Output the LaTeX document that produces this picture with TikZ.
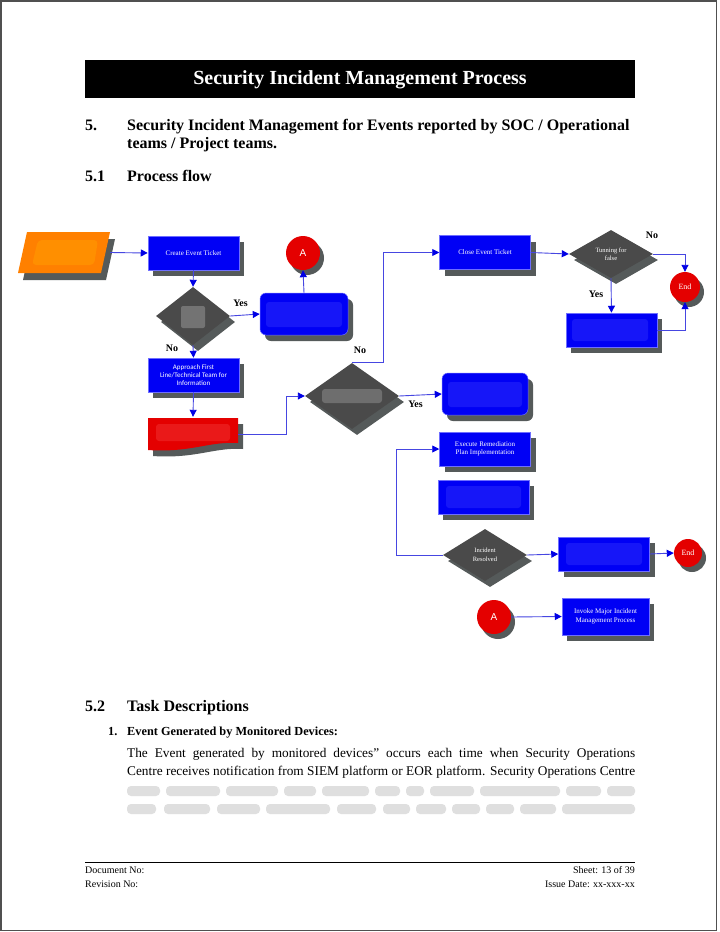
\documentclass[tikz,border=0pt]{standalone}
\usepackage{fontspec}
\setmainfont{Liberation Serif}
\newfontfamily\boxsans{Carlito}
\newfontfamily\asans{Liberation Sans}
\usetikzlibrary{shapes.geometric,shadows,arrows.meta}
\definecolor{boxblue}{RGB}{0,0,245}
\definecolor{boxedge}{RGB}{110,110,255}
\definecolor{shadowgray}{RGB}{85,90,90}
\definecolor{dgray}{RGB}{74,74,74}
\definecolor{lineblue}{RGB}{70,70,225}
\definecolor{redfill}{RGB}{228,0,0}
\definecolor{orangefill}{RGB}{255,128,0}
\definecolor{framegray}{RGB}{80,80,80}
\tikzset{
  shad/.style={general shadow={fill=shadowgray, shadow xshift=5pt, shadow yshift=-6pt}},
  bbox/.style={rectangle, fill=boxblue, draw=boxedge, line width=0.5pt, minimum width=91pt, minimum height=34pt,
    inner sep=1pt, text=white, font=\fontsize{7}{8.5}\selectfont, align=center, shad},
  rbox/.style={bbox, rounded corners=6pt},
  dia/.style={diamond, fill=dgray, inner sep=0pt, text=white, font=\fontsize{6.5}{8.5}\selectfont, align=center, shad},
  circ/.style={circle, fill=redfill, inner sep=0pt, text=white,
    general shadow={fill=shadowgray, shadow xshift=4pt, shadow yshift=-5pt}},
  conn/.style={draw=lineblue, line width=0.9pt, -{Triangle[length=7pt,width=7pt,color=blue!90!black]}},
  lbl/.style={font=\bfseries\fontsize{10}{12}\selectfont},
  hdr/.style={anchor=base west, font=\bfseries\fontsize{16}{18}\selectfont, inner sep=0pt},
  body/.style={anchor=base west, font=\fontsize{13.3}{16}\selectfont, inner sep=0pt},
  foot/.style={font=\fontsize{10}{12}\selectfont, inner sep=0pt},
  blurin/.style={fill=blue!70!white, opacity=0.3, rounded corners=3pt},
  blurtxt/.style={fill=gray!25, rounded corners=4pt},
}
\begin{document}
\begin{tikzpicture}[x=1pt,y=-1pt]
\useasboundingbox (0,0) rectangle (720,932);
\fill[white] (0,0) rectangle (720,932);
\draw[framegray, line width=1.5pt] (1,1) rectangle (716.5,930.5);

% header
\fill[black] (85,60) rectangle (635,98);
\node[text=white, font=\bfseries\fontsize{20}{24}\selectfont] (title) at (360,79.5) {Security Incident Management Process};

\node[hdr] (h5n) at (85,130) {5.};
\node[hdr] (h5a) at (127,130) {Security Incident Management for Events reported by SOC / Operational};
\node[hdr] (h5b) at (127,148.5) {teams / Project teams.};
\node[hdr] (h51n) at (85,181) {5.1};
\node[hdr] (h51) at (127,181) {Process flow};

% ---------- flowchart ----------
% orange parallelogram
\fill[shadowgray] (32,239) -- (115,239) -- (106,280) -- (23,280) -- cycle;
\fill[orangefill] (27,232) -- (110,232) -- (101,273) -- (18,273) -- cycle;
\fill[orange!60!yellow, opacity=0.3, rounded corners=4pt] (38,240) -- (98,240) -- (94,265) -- (32,265) -- cycle;
\node[minimum width=92pt, minimum height=41pt, inner sep=0pt] (par) at (64,252.5) {};

\node[bbox] (cet) at (193.5,253) {Create Event Ticket};
\node[dia, minimum width=74pt, minimum height=58pt] (d1) at (193,316) {};
\fill[gray!70, opacity=0.45, rounded corners=2pt] (181,306) rectangle (205,328);
\node[rbox, minimum width=88pt, minimum height=42pt] (rb1) at (304,314) {};
\fill[blurin] (266,302) rectangle (342,327);
\node[circ, minimum size=34pt, font=\asans\fontsize{10}{12}\selectfont] (A1) at (303,253) {A};
\node[bbox, font=\boxsans\fontsize{7}{8.3}\selectfont] (ap) at (193.5,375) {Approach First\\Line/Technical Team for\\Information};

% red document shape
\fill[shadowgray] (153,424) -- (243,424) -- (243,449) .. controls (215,447) and (195,459) .. (153,456) -- cycle;
\fill[redfill] (148,418) -- (238,418) -- (238,443) .. controls (210,441) and (190,453) .. (148,450) -- cycle;
\fill[red!60!white, opacity=0.25, rounded corners=3pt] (156,424) rectangle (230,441);
\node[minimum width=90pt, minimum height=34pt, inner sep=0pt] (red) at (193,434) {};

\node[dia, minimum width=94pt, minimum height=66pt] (d2) at (352,396) {};
\fill[gray!70, opacity=0.4, rounded corners=3pt] (322,389) rectangle (382,403);
\node[rbox, minimum width=86pt, minimum height=42pt] (rb2) at (485,394) {};
\fill[blurin] (448,382) rectangle (522,407);

\node[bbox] (close) at (485,252.5) {Close Event Ticket};
\node[dia, minimum width=84pt, minimum height=48pt] (d3) at (611,254) {Tunning for\\false};
\node[circ, minimum size=30pt, font=\fontsize{8}{10}\selectfont] (end1) at (685,287) {End};
\node[bbox] (b3) at (611.5,330) {};
\fill[blurin] (572,319) rectangle (648,341);

\node[bbox] (exe) at (485,449) {Execute Remediation\\Plan Implementation};
\node[bbox] (b5) at (483.5,497) {};
\fill[blurin] (446,486) rectangle (521,508);
\node[dia, minimum width=84pt, minimum height=52pt] (d4) at (485,555) {Incident\\Resolved};
\node[bbox] (b6) at (604,554) {};
\fill[blurin] (566,543) rectangle (642,565);
\node[circ, minimum size=28pt, font=\fontsize{8}{10}\selectfont] (end2) at (688,553) {End};
\node[circ, minimum size=34pt, font=\asans\fontsize{10}{12}\selectfont] (A2) at (494,617) {A};
\node[bbox, minimum width=87pt, minimum height=37pt] (inv) at (605.5,616.5) {Invoke Major Incident\\Management Process};

% connectors
\draw[conn] (par.east) -- (cet.west);
\draw[conn] (cet.south) -- (d1.north);
\draw[conn] (d1.east) -- (rb1.west);
\node[lbl] (y1) at (240.5,303) {Yes};
\draw[conn] (rb1.north) -- (A1.south);
\draw[conn] (d1.south) -- (ap.north);
\node[lbl] (n1) at (172,348) {No};
\draw[conn] (ap.south) -- (red.north);
\draw[conn] (red.east) -- ++(48,0) |- (d2.west);
\draw[conn] (d2.north) -- ++(31,0) |- (close.west);
\node[lbl] (n2) at (360,350) {No};
\draw[conn] (d2.east) -- (rb2.west);
\node[lbl] (y2) at (415.5,404) {Yes};
\draw[conn] (close.east) -- (d3.west);
\draw[conn] (d3.east) -| (end1.north);
\node[lbl] (n3) at (652,235.5) {No};
\draw[conn] (d3.south) -- (b3.north);
\node[lbl] (y3) at (596,294) {Yes};
\draw[conn] (b3.east) -| (end1.south);
\draw[conn] (d4.west) -- ++(-46,0) |- (exe.west);
\draw[conn] (d4.east) -- (b6.west);
\draw[conn] (b6.east) -- (end2.west);
\draw[conn] (A2.east) -- (inv.west);

% ---------- lower text ----------
\node[hdr] (h52n) at (85,711) {5.2};
\node[hdr] (h52) at (127,711) {Task Descriptions};
\node[anchor=base west, font=\bfseries\fontsize{12.3}{15}\selectfont, inner sep=0pt] (i1n) at (108,735) {1.};
\node[anchor=base west, font=\bfseries\fontsize{12.3}{15}\selectfont, inner sep=0pt] (i1) at (127,735) {Event Generated by Monitored Devices:};
\node[body] (p1) at (127,757.5) {\makebox[508pt][s]{The Event generated by monitored devices" occurs each time when Security Operations}};
\node[body] (p2) at (127,775.5) {\makebox[508pt][s]{Centre receives notification from SIEM platform or EOR platform. Security Operations Centre}};
% blurred lines
\foreach \a/\b in {127/160,166/220,226/278,284/316,322/369,375/400,406/424,430/474,480/560,566/601,607/635}
  {\fill[blurtxt] (\a,786) rectangle (\b,796);}
\foreach \a/\b in {127/156,164/210,217/260,266/330,337/376,383/410,416/446,452/480,486/514,520/556,562/635}
  {\fill[blurtxt] (\a,804) rectangle (\b,814);}

% footer
\draw[black, line width=1pt] (85,862) -- (635,862);
\node[foot, anchor=base west] (dn) at (85,873) {Document No:};
\node[foot, anchor=base west] (rn) at (85,887) {Revision No:};
\node[foot, anchor=base east] (sh) at (635,873) {Sheet: 13 of 39};
\node[foot, anchor=base east] (id) at (635,887) {Issue Date: xx-xxx-xx};
\end{tikzpicture}
\end{document}
